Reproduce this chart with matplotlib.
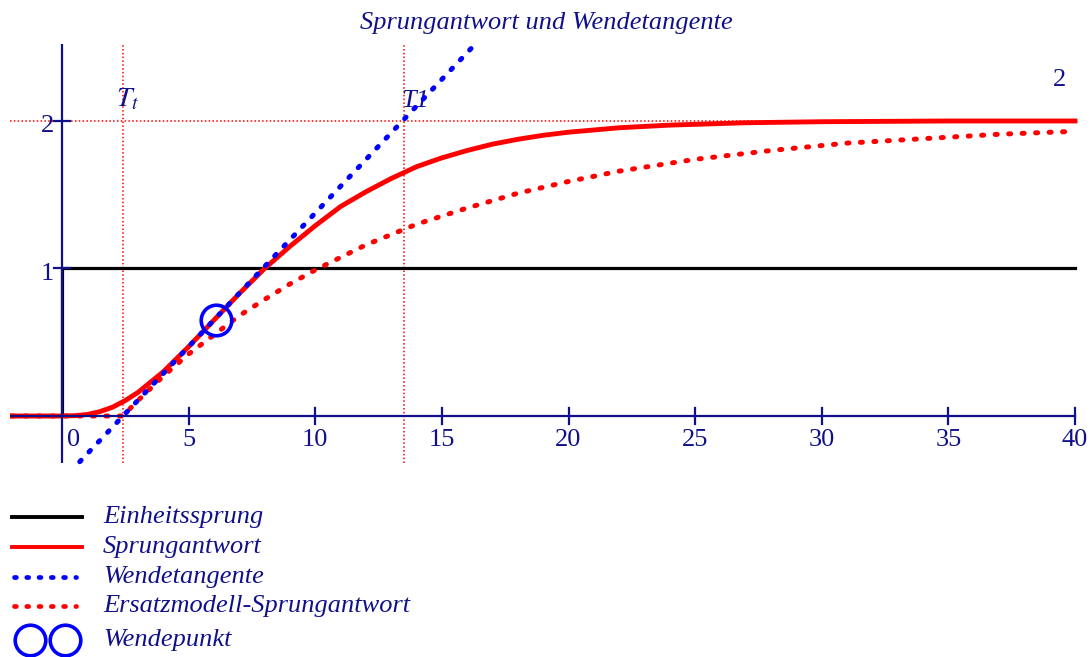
import numpy as np
import matplotlib
matplotlib.use("Agg")
import matplotlib.pyplot as plt

plt.rcParams['font.family'] = ['Liberation Serif', 'DejaVu Serif']
plt.rcParams['mathtext.fontset'] = 'stix'

# %% data
t_step = [-2, 0, 0, 40]
y_step = [0, 0, 1, 1]

t_resp = [-2, 0, 0.5, 1, 1.5, 2, 2.5, 3, 3.5, 4, 5, 6, 7, 8, 9, 10, 11, 12, 13,
          14, 15, 16, 17, 18, 19, 20, 22, 24, 27, 30, 35, 40]
y_resp = [0, 0, 0.002, 0.01, 0.03, 0.06, 0.105, 0.16, 0.23, 0.30, 0.47, 0.65,
          0.83, 1.00, 1.15, 1.29, 1.42, 1.52, 1.61, 1.69, 1.75, 1.80, 1.843,
          1.876, 1.903, 1.924, 1.954, 1.972, 1.988, 1.995, 2.0, 2.0]

t_model = [-2, 2.4, 3, 4, 5, 6, 7, 8, 9, 10, 12, 14, 16, 18, 20, 22, 25, 28, 31,
           34, 37, 40]
y_model = [0, 0, 0.105, 0.27, 0.42, 0.55, 0.68, 0.79, 0.895, 0.99, 1.16, 1.30,
           1.41, 1.51, 1.59, 1.66, 1.74, 1.80, 1.85, 1.88, 1.91, 1.93]

t_tang = [0.7, 16.2]
y_tang = [-0.31, 2.5]

t_wp, y_wp = 6.1, 0.65
Tt, T1, K = 2.4, 13.5, 2

xticks = [5, 10, 15, 20, 25, 30, 35, 40]
yticks = [1, 2]

legend_labels = ['Einheitssprung', 'Sprungantwort', 'Wendetangente',
                 'Ersatzmodell-Sprungantwort', 'Wendepunkt']

navy = '#10108a'
fs = 19

# %% plotting
fig = plt.figure(figsize=(10.92, 6.57), dpi=100)
ax = fig.add_axes([0.00925, 0.295, 0.9775, 0.6376])
xmin, xmax, ymin, ymax = -2.05, 40.1, -0.32, 2.52
ax.set_xlim(xmin, xmax)
ax.set_ylim(ymin, ymax)
ax.axis('off')

dot = (0, (0.4, 2.3))
# helper lines
ax.plot([xmin, xmax], [K, K], color='red', lw=1.1, ls=(0, (1, 1.5)))
ax.plot([Tt, Tt], [ymin, ymax], color='red', lw=1.1, ls=(0, (1, 1.5)))
ax.plot([T1, T1], [ymin, ymax], color='red', lw=1.1, ls=(0, (1, 1.5)))

# axes
ax.plot([-2, 40], [0, 0], color=navy, lw=1.6, zorder=5)
ax.plot([0, 0], [ymin, ymax], color=navy, lw=1.6, zorder=5)
for xt in xticks:
    ax.plot([xt, xt], [-0.055, 0.055], color=navy, lw=1.6, zorder=5)
    ax.text(xt, -0.085, str(xt), color=navy, fontsize=fs, ha='center', va='top')
ax.text(0.2, -0.085, '0', color=navy, fontsize=fs, ha='left', va='top')
for yt in yticks:
    ax.plot([-0.3, 0.3], [yt, yt], color=navy, lw=1.6, zorder=5)
    ax.text(-0.3, yt - 0.035, str(yt), color=navy, fontsize=fs, ha='right', va='center')

# curves
ax.plot(t_step, y_step, color='black', lw=2.3, zorder=3)
ax.plot(t_resp, y_resp, color='red', lw=3.5, zorder=4)
ax.plot(t_model, y_model, color='red', lw=3.6, ls=dot, dash_capstyle='round', zorder=4)
ax.plot(t_tang, y_tang, color='blue', lw=3.6, ls=dot, dash_capstyle='round',
        zorder=6, clip_on=False)
ax.plot([t_wp], [y_wp], 'o', mfc='none', mec='blue', ms=22, mew=2.6, zorder=7)

ax.text(Tt - 0.25, 2.06, '$T_t$', color=navy, fontsize=20, ha='left', va='bottom')
ax.text(T1 - 0.1, 2.06, 'T1', color=navy, fontsize=fs, style='italic', ha='left', va='bottom')
ax.text(39.4, 2.2, '2', color=navy, fontsize=fs, ha='center', va='bottom')

fig.text(0.5, 0.965, 'Sprungantwort und Wendetangente', color=navy,
         fontsize=fs, style='italic', ha='center', va='center')

# legend drawn in pixel coords
lg = fig.add_axes([0, 0, 1, 1])
lg.set_xlim(0, 1092)
lg.set_ylim(657, 0)
lg.axis('off')
rows = [517, 547, 577, 606, 640]
lg.plot([12, 82], [rows[0]] * 2, color='black', lw=2.8)
lg.plot([12, 82], [rows[1]] * 2, color='red', lw=2.8)
lg.plot([14, 76], [rows[2]] * 2, color='blue', lw=3.4, ls=(0, (0.4, 2.2)), dash_capstyle='round')
lg.plot([14, 76], [rows[3]] * 2, color='red', lw=3.4, ls=(0, (0.4, 2.2)), dash_capstyle='round')
lg.plot([30, 65], [rows[4]] * 2, 'o', mfc='none', mec='blue', ms=22, mew=2.6, ls='none')
for r, lab in zip(rows, legend_labels):
    lg.text(103, r, lab, color=navy, fontsize=fs, style='italic', ha='left', va='center')

fig.savefig('out.png', dpi=100)
